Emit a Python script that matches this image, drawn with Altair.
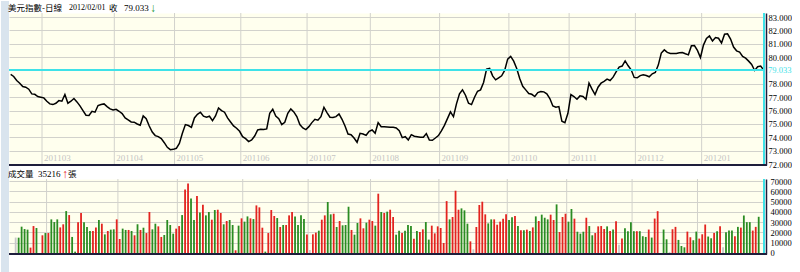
import altair as alt
import pandas as pd

# ---------------- data ----------------
title_name = "美元指數-日線"
title_date = "2012/02/01"
title_close_word = "收"
title_close = "79.033"
title_close_arrow = "↓"
vol_word = "成交量"
vol_last = "35216"
vol_arrow = "↑"
vol_unit = "張"

close = [
    78.70, 78.55, 78.25, 78.05, 77.80, 77.75, 77.60, 77.25, 77.22, 77.05,
    77.00, 76.95, 76.70, 76.50, 76.45, 76.55, 76.75, 76.70, 77.20, 76.55,
    76.70, 76.90, 76.65, 76.35, 76.00, 75.65, 75.63, 75.95, 75.88, 76.38,
    76.45, 76.50, 76.30, 76.13, 76.05, 76.10, 75.95, 75.78, 75.45, 75.30,
    75.15, 75.13, 75.00, 74.90, 75.60, 75.40, 74.85, 74.40, 74.13, 74.05,
    73.90, 73.60, 73.25, 73.08, 73.10, 73.18, 73.55, 74.30, 74.95, 74.88,
    74.75, 75.45, 75.72, 75.88, 75.58, 75.50, 75.58, 75.25, 75.60, 76.20,
    76.00, 75.88, 75.45, 75.15, 74.85, 74.68, 74.45, 74.05, 73.90, 73.68,
    73.80, 74.10, 74.55, 74.60, 74.58, 74.63, 75.80, 76.10, 75.60, 75.40,
    74.95, 75.13, 75.80, 76.13, 75.90, 75.55, 74.95, 74.70, 74.58, 74.80,
    75.10, 75.35, 75.28, 75.55, 76.25, 75.85, 75.50, 75.48, 75.55, 75.75,
    75.35, 74.85, 74.25, 74.20, 73.95, 73.63, 74.30, 74.25, 74.15, 74.45,
    74.55, 74.30, 75.10, 74.80, 74.80, 74.78,
    74.75, 74.75, 74.70, 74.50, 73.98, 74.05, 73.80, 74.20, 74.08, 74.05,
    74.00, 74.00, 74.28, 73.80, 73.78, 73.95, 74.13, 74.48, 74.90, 75.40,
    75.90, 75.55, 76.50, 77.25, 77.55, 77.15, 76.55, 76.45, 77.00, 77.45,
    77.55, 78.10, 79.10, 79.15, 78.60, 78.30, 78.45, 78.60, 79.00, 79.85,
    80.05, 79.70, 79.15, 78.40, 77.82, 77.55, 77.28, 77.22, 77.05, 77.35,
    77.42, 77.40, 77.25, 76.90, 76.35, 76.25, 76.30, 75.20, 75.10, 75.80,
    77.20, 77.05, 76.85, 77.10, 77.05, 76.85, 78.05, 77.60, 77.20, 77.75,
    78.05, 78.18, 78.35, 78.25,
    78.50, 78.90, 79.25, 79.33, 79.72, 79.35, 79.05, 78.48, 78.45, 78.62,
    78.68, 78.62, 78.53, 78.75, 78.85, 79.40, 80.30, 80.54, 80.35, 80.27,
    80.27, 80.27, 80.32, 80.34, 80.25, 80.17, 80.85, 80.86, 80.50, 79.97,
    80.90, 81.40, 81.58, 81.20, 81.46, 81.41, 81.05, 81.71, 81.74, 81.35,
    80.75, 80.47, 80.38, 80.05, 79.92, 79.70, 79.45, 79.00, 79.28, 79.33,
    79.033,
]

volume = [
    15000,
    14900, 25600, 23300, 22700, 5200, 26200, 24300,
    0,
    17200, 19400, 19400, 32700, 30100, 32700, 24900, 27900, 40800, 36900,
    15600, 1300, 29800, 38900, 29800, 25300, 21400, 21400, 24900, 32100,
    28500, 18100, 21400, 22700, 23000, 32700, 13600, 23700, 22400, 22400,
    21400, 17200, 27900, 22400, 24600, 19400, 39900, 23000, 28500, 25900,
    15600, 17500, 32100, 27200, 18800, 23700, 26200, 36900, 61900, 67700,
    53100, 32100, 55400, 39500, 47000, 36600, 39900, 32400, 41800, 42100,
    38900, 27900, 31100, 32100, 27200, 2600, 26600, 33700, 30500, 35600,
    33700, 33000, 46300, 44400, 24600, 1300, 19400, 41800, 36000, 34000,
    25300,
    27200, 27200, 36600, 39900, 35600, 27200, 36600, 33000, 18100, 2900,
    18100, 19800, 21700, 32400, 36600, 49600, 37600, 38200, 25300, 31100,
    26900, 27200, 45000, 22400, 17800, 29200, 33700, 24000, 29500, 32400,
    31100, 26600, 57700, 39900, 38900, 40200, 42100, 35000, 17800, 21700,
    19400, 21700, 27200, 26200, 13900, 21400, 20400, 23000, 30100, 13000,
    26600, 19100, 25900, 24300, 9700, 50500, 32700, 35000, 60600, 42100,
    43400, 41500, 28500, 11300, 3600, 25300, 46700, 49900, 37600, 28800,
    32700, 32700, 27500, 30500, 33400, 37600, 32100, 34700, 36000, 26200,
    22000, 22000, 22700, 21400, 24900, 35600, 31100, 37300, 34300, 32700,
    37300, 32100, 47300, 20400, 35000, 38200, 30500, 42800, 33400, 20700,
    18800, 20700, 34300, 26200, 17200, 19400, 25900, 26200, 23300, 25900,
    21500, 22800, 30900, 8100, 14000, 24100, 21200, 30000, 21200, 21200,
    21200, 16300, 15600, 22800, 15000, 33500, 40700, 0, 22800, 13300,
    1000, 23100, 25400, 12700, 6800, 5500, 20800, 15300, 12400, 20800,
    14000, 18200, 27700, 16000, 14300, 19500, 21200, 26000, 5500, 20200,
    21800, 21800, 16300, 25400, 24700, 36500, 30000, 30000, 21800, 25400,
    35216,
]

# r = up day (red), g = down day (green), n = flat (grey)
direction_rows = [
    "n", "ggggrrg", "n",
    "rgrgggrrgr", "ggrrgggrrg", "rgrggrrggr", "grgrgrrggr",
    "rggggrrgrr", "ggrgrggrgr", "rgrggrgrgg", "rgrrrgrrrg", "r",
    "grrrggggrn", "rrgrrggrgr", "gggrggrrgr", "rgrgrgrrgg",
    "rgggrgrrgg", "rrrrrrgrrr", "gggrnrrrrg", "grrrrrggrg",
    "rgrgrgrggg", "rrgrrrggrg", "ggrggrrrrg",
    "rgrnrggggr", "gggrgrrngg", "nrrgggrrgg", "rrrggrgrng",
    "ggrgrgggrr", "g",
]
direction = list("".join(direction_rows))

month_start = [11, 35, 55, 77, 99, 120, 143, 166, 186, 208, 230]
month_label = ["201103", "201104", "201105", "201106", "201107", "201108",
               "201109", "201110", "201111", "201112", "201201"]
price_ticks = [72, 73, 74, 75, 76, 77, 78, 80, 81, 82, 83]
volume_ticks = [0, 10000, 20000, 30000, 40000, 50000, 60000, 70000]

df = pd.DataFrame({"i": list(range(len(close))), "close": close,
                   "volume": volume, "dir": direction})
months = pd.DataFrame({"start": month_start, "label": month_label})
last = pd.DataFrame({"v": [close[-1]]})
one = pd.DataFrame({"k": [0]})

# ---------------- styling ----------------
W, H1, H2 = 755, 152, 75
GRID = "#d2d2cc"
CYAN = "#3fe2e8"
DARK = "#1e1e3c"
STRIP = "#d9e4ee"
SERIF = "Liberation Serif"
CJK = "Noto Sans CJK TC"

xscale = alt.Scale(domain=[-0.56, 250.1], nice=False, zero=False)
y1scale = alt.Scale(domain=[71.93, 83.3], nice=False, zero=False)
y2scale = alt.Scale(domain=[-1000, 72000], nice=False, zero=False)


def xq(field):
    return alt.X(field, type="quantitative", scale=xscale, axis=None)


def txt(s, x, y, font, color="#000000", size=8.5):
    return alt.Chart(one).mark_text(
        text=s, align="left", baseline="middle", font=font,
        fontSize=size, color=color
    ).encode(x=alt.value(x), y=alt.value(y))


month_pos = "datum.start - 0.6"

# ---------------- top panel ----------------
strip1 = alt.Chart(one).mark_rect(color=STRIP).encode(
    x=alt.value(-8), x2=alt.value(0), y=alt.value(-12), y2=alt.value(H1 + 14))
mgrid1 = alt.Chart(months).transform_calculate(pos=month_pos).mark_rule(
    color=GRID, strokeWidth=1).encode(x=xq("pos"))
line = alt.Chart(df).mark_line(color="#000000", strokeWidth=1.5).encode(
    x=xq("i"),
    y=alt.Y("close:Q", scale=y1scale, axis=alt.Axis(
        orient="right", values=price_ticks, format=".3f", grid=True,
        gridColor=GRID, ticks=False, domain=True, domainColor=DARK,
        domainWidth=1.5, offset=2, labelFont=SERIF, labelFontSize=8.5,
        labelColor="#000000", labelPadding=2, title=None)))
mlabels = alt.Chart(months).transform_calculate(pos=month_pos).mark_text(
    align="left", baseline="middle", dx=2, font=SERIF, fontSize=9,
    color="#c4c4c4").encode(x=xq("pos"), y=alt.value(H1 - 7), text="label:N")
cyan_h = alt.Chart(last).mark_rule(color=CYAN, strokeWidth=2).encode(
    y=alt.Y("v:Q", scale=y1scale, axis=None))
cyan_lbl = alt.Chart(last).mark_text(
    align="left", baseline="middle", font=SERIF, fontSize=8.5, color=CYAN
).encode(x=alt.value(W + 4), y=alt.Y("v:Q", scale=y1scale, axis=None),
         text=alt.Text("v:Q", format=".3f"))
cyan_v1 = alt.Chart(one).mark_rule(color=CYAN, strokeWidth=2).encode(
    x=alt.value(W), y=alt.value(0), y2=alt.value(H1))
border1 = alt.Chart(one).mark_rule(color=DARK, strokeWidth=2).encode(
    x=alt.value(0), x2=alt.value(W + 3), y=alt.value(H1))

top = alt.layer(
    strip1, mgrid1, line, mlabels, cyan_h, cyan_lbl, cyan_v1, border1,
    txt(title_name, -1, -5, CJK),
    txt(title_date, 60, -5, SERIF, size=8),
    txt(title_close_word, 100, -5, CJK),
    txt(title_close, 115, -5, SERIF, size=9),
    txt(title_close_arrow, 141, -5, SERIF, color="#2a9a3a", size=12),
).resolve_axis(y="independent").properties(width=W, height=H1)

# ---------------- bottom panel ----------------
strip2 = alt.Chart(one).mark_rect(color=STRIP).encode(
    x=alt.value(-8), x2=alt.value(0), y=alt.value(0), y2=alt.value(H2 + 19))
mgrid2 = alt.Chart(months).transform_calculate(pos=month_pos).mark_rule(
    color=GRID, strokeWidth=1).encode(x=xq("pos"))
bars = alt.Chart(df).mark_bar(size=1.8, clip=True).encode(
    x=xq("i"),
    y=alt.Y("volume:Q", scale=y2scale, stack=None, axis=alt.Axis(
        orient="right", values=volume_ticks, format="d", grid=True,
        gridColor=GRID, ticks=False, domain=True, domainColor=DARK,
        domainWidth=1.5, offset=2, labelFont=SERIF, labelFontSize=8.5,
        labelColor="#000000", labelPadding=4, title=None)),
    color=alt.Color("dir:N", legend=None, scale=alt.Scale(
        domain=["r", "g", "n"], range=["#e3231f", "#2a8c22", "#c8c8c8"])),
)
cyan_v2 = alt.Chart(one).mark_rule(color=CYAN, strokeWidth=2).encode(
    x=alt.value(W), y=alt.value(0), y2=alt.value(H2))
border2 = alt.Chart(one).mark_rule(color=DARK, strokeWidth=2).encode(
    x=alt.value(0), x2=alt.value(W + 3), y=alt.value(H2))

bottom = alt.layer(
    strip2, mgrid2, bars, cyan_v2, border2,
    txt(vol_word, -1, -5, CJK),
    txt(vol_last, 29, -5, SERIF, size=9),
    txt(vol_arrow, 53, -5, SERIF, color="#e3231f", size=12),
    txt(vol_unit, 59, -5, CJK),
).properties(width=W, height=H2)

chart = alt.vconcat(top, bottom, spacing=14, bounds="flush").properties(
    padding={"left": 0, "right": 0, "top": 0, "bottom": 0}
).configure(background="white").configure_view(
    fill="#ffffee", stroke="transparent")

chart.save("out.html", embed_options={"renderer": "svg", "actions": False})
